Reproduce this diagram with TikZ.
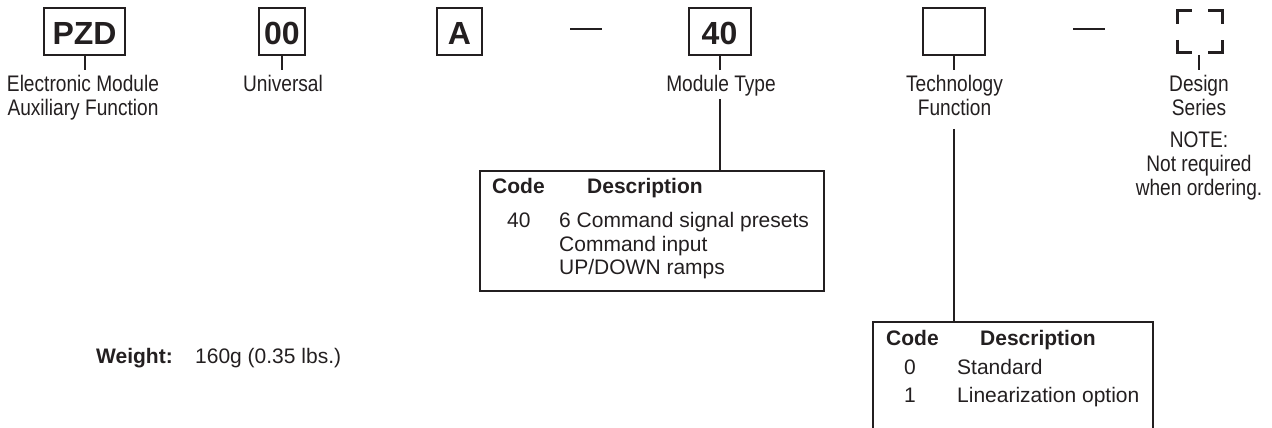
\documentclass[tikz,border=0pt]{standalone}
\usepackage{fontspec}
\setmainfont{Liberation Sans}
\newfontfamily\cond[FakeStretch=0.85]{Liberation Sans}
\definecolor{ink}{RGB}{35,31,32}
\begin{document}
\begin{tikzpicture}[x=1pt,y=-1pt,
  every node/.style={inner sep=0pt, text=ink},
  codebox/.style={draw=ink, line width=2pt, minimum height=47pt, text height=27pt, text depth=0pt,
    font=\bfseries\fontsize{32}{32}\selectfont},
  lbl/.style={font=\cond\fontsize{22.5}{24}\selectfont, align=center, anchor=north},
  tick/.style={draw=ink, line width=2pt},
  thintick/.style={draw=ink, line width=1.3pt},
  bracket/.style={draw=ink, line width=2.7pt, line join=miter},
  tbl/.style={font=\fontsize{21}{24}\selectfont, anchor=base west},
  tblhead/.style={font=\bfseries\fontsize{21}{24}\selectfont, anchor=base west},
  tblframe/.style={draw=ink, line width=2pt}]
\useasboundingbox (0,0) rectangle (1272,428);

% code boxes
\node[codebox, minimum width=81pt] (pzd) at (84.5,31.5) {PZD};
\node[codebox, minimum width=46pt] (uni) at (282,31.5) {00};
\node[codebox, minimum width=45pt] (ver) at (459.5,31.5) {A};
\node[codebox, minimum width=62pt] (mod) at (719.5,31.5) {40};
\node[codebox, minimum width=62pt] (tec) at (954,31.5) {};

% dashes
\draw[tick] (570,29) -- (602,29);
\draw[tick] (1073,29) -- (1105,29);

% design series brackets
\draw[bracket] (1177.3,24) -- (1177.3,10.3) -- (1192,10.3);
\draw[bracket] (1208,10.3) -- (1222.7,10.3) -- (1222.7,24);
\draw[bracket] (1177.3,40) -- (1177.3,52.7) -- (1192,52.7);
\draw[bracket] (1208,52.7) -- (1222.7,52.7) -- (1222.7,40);
\coordinate (dsb) at (1199,55);

% labels
\node[lbl] (lpzd) at (83,75) {Electronic Module\\Auxiliary Function};
\node[lbl] (luni) at (283,75) {Universal};
\node[lbl] (lmod) at (721,75) {Module Type};
\node[lbl] (ltec) at (954.5,75) {Technology\\Function};
\node[lbl] (ldes) at (1199,75) {Design\\Series\\[8pt]NOTE:\\Not required\\when ordering.};

% short ticks
\draw[tick, shorten >=5pt] (pzd.south) -- (pzd.south |- lpzd.north);
\draw[tick, shorten >=5pt] (uni.south) -- (uni.south |- luni.north);
\draw[tick, shorten >=5pt] (mod.south) -- (mod.south |- lmod.north);
\draw[tick, shorten >=5pt] (tec.south) -- (tec.south |- ltec.north);
\draw[thintick, shorten >=5pt] (dsb) -- (dsb |- ldes.north);

% module type table
\node[tblframe, minimum width=344pt, minimum height=120pt, anchor=north west] (t40) at (479,170) {};
\node[tblhead] (h1) at (492,193) {Code};
\node[tblhead] (h2) at (587,193) {Description};
\node[tbl] (c40) at (507,227) {40};
\node[tbl] (d1) at (559,227) {6 Command signal presets};
\node[tbl] (d2) at (559,251) {Command input};
\node[tbl] (d3) at (559,274) {UP/DOWN ramps};
\draw[tick, shorten <=2.5pt] (lmod.south -| mod) -- (t40.north -| mod);

% technology function table (open at the bottom, cut by the page)
\node[minimum width=280pt, minimum height=120pt, anchor=north west] (tT) at (873,322) {};
\draw[tblframe] (tT.south west) |- (tT.north east) -- (tT.south east);
\node[tblhead] (th1) at (886,345) {Code};
\node[tblhead] (th2) at (980,345) {Description};
\node[tbl] (r0) at (904,374) {0};
\node[tbl] (s0) at (957,374) {Standard};
\node[tbl] (r1) at (904,402) {1};
\node[tbl] (s1) at (957,402) {Linearization option};
\draw[tick, shorten <=13pt] (ltec.south -| tec) -- (tT.north -| tec);

% weight
\node[tblhead] (wl) at (96,363) {Weight:};
\node[tbl] (wv) at (195,363) {160g (0.35 lbs.)};
\end{tikzpicture}
\end{document}
